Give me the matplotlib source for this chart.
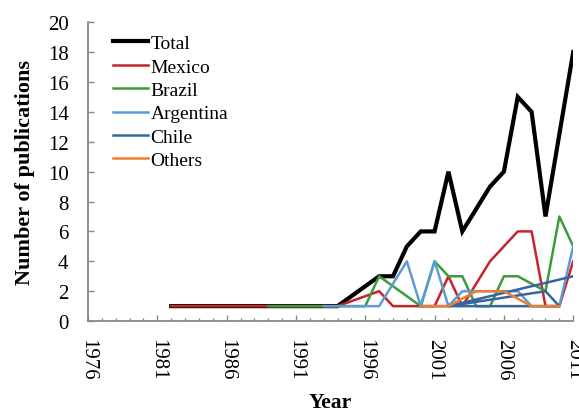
import numpy as np
from matplotlib import pyplot as plt
from matplotlib.ticker import MultipleLocator, FixedLocator

plt.rcParams['font.family'] = ['Liberation Serif', 'DejaVu Serif']

# Publications per year (only years where a point was drawn)
total_years = [1982, 1994, 1997, 1998, 1999, 2000, 2001, 2002, 2003, 2005, 2006, 2007, 2008, 2009, 2011]
total_vals = [1, 1, 3, 3, 5, 6, 6, 10, 6, 9, 10, 15, 14, 7, 18]

mexico_years = [1982, 1989, 1994, 1997, 1998, 2001, 2002, 2003, 2005, 2007, 2008, 2009, 2010, 2011]
mexico_vals = [1, 1, 1, 2, 1, 1, 3, 1, 4, 6, 6, 1, 1, 4]

brazil_years = [1989, 1993, 1996, 1997, 2000, 2001, 2002, 2003, 2004, 2005, 2006, 2007, 2009, 2010, 2011]
brazil_vals = [1, 1, 1, 3, 1, 4, 3, 3, 1, 1, 3, 3, 2, 7, 5]

argentina_years = [1993, 1997, 1999, 2000, 2001, 2002, 2003, 2007, 2008, 2010, 2011]
argentina_vals = [1, 1, 4, 1, 4, 1, 2, 2, 1, 1, 5]

# Chile series is not in year order in the source sheet
chile_years = [2000, 2010, 2009, 2002, 2011]
chile_vals = [1, 1, 2, 1, 3]

others_years = [2000, 2002, 2004, 2006, 2008, 2010]
others_vals = [1, 1, 2, 2, 1, 1]

year_ticks = list(range(1976, 2012, 5))

fig = plt.figure(figsize=(5.79, 4.14), dpi=100)
ax = fig.add_axes([0.152, 0.222, 0.838, 0.722])

ax.plot(total_years, total_vals, color='black', lw=3.0, label='Total', solid_joinstyle='miter')
ax.plot(mexico_years, mexico_vals, color='#C8232B', lw=1.8, label='Mexico')
ax.plot(brazil_years, brazil_vals, color='#3C9C3C', lw=1.8, label='Brazil')
ax.plot(argentina_years, argentina_vals, color='#5E9BD5', lw=1.8, label='Argentina')
ax.plot(chile_years, chile_vals, color='#38659E', lw=1.8, label='Chile')
ax.plot(others_years, others_vals, color='#ED7D31', lw=1.8, label='Others')

ax.set_xlim(1976, 2011)
ax.set_ylim(0, 20)
ax.xaxis.set_major_locator(FixedLocator(year_ticks))
ax.xaxis.set_minor_locator(MultipleLocator(1))
ax.yaxis.set_major_locator(MultipleLocator(2))

for s in ['top', 'right']:
    ax.spines[s].set_visible(False)
for s in ['left', 'bottom']:
    ax.spines[s].set_color('#888888')
    ax.spines[s].set_linewidth(1.3)

ax.tick_params(axis='x', which='major', direction='in', length=4.5, width=1.0, color='#888888',
               labelsize=15, pad=12, labelrotation=270)
ax.tick_params(axis='x', which='minor', direction='in', length=2.5, width=1.0, color='#888888')
ax.tick_params(axis='y', which='major', direction='in', length=4.5, width=1.0, color='#888888',
               labelsize=15, pad=14)
for lab in ax.get_xticklabels():
    lab.set_va('top')
    lab.set_ha('center')

ax.set_xlabel('Year', fontsize=15.5, fontweight='bold', labelpad=9)
ax.set_ylabel('Number of publications', fontsize=16, fontweight='bold', labelpad=9)

ax.legend(loc='upper left', bbox_to_anchor=(0.035, 0.985), frameon=False, fontsize=14,
          handlelength=1.8, handletextpad=0.15, labelspacing=0.3, borderaxespad=0)

fig.savefig('out.png', dpi=100)
